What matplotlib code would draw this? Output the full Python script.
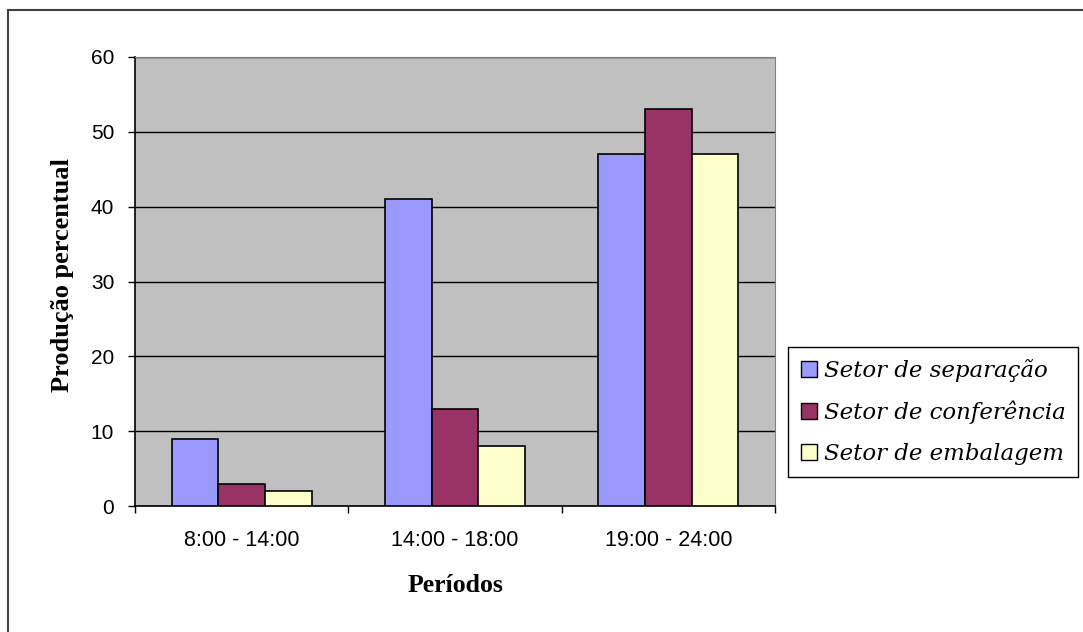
import matplotlib

matplotlib.use("Agg")

import numpy as np
from matplotlib import pyplot as plt
from matplotlib.lines import Line2D
from matplotlib.patches import Patch

periods = ["8:00 - 14:00", "14:00 - 18:00", "19:00 - 24:00"]
series_names = ["Setor de separação", "Setor de conferência", "Setor de embalagem"]
separacao = [9, 41, 47]
conferencia = [3, 13, 53]
embalagem = [2, 8, 47]
y_ticks = [0, 10, 20, 30, 40, 50, 60]

colors = ["#9999ff", "#993366", "#ffffcc"]

W, H = 1083, 632
fig = plt.figure(figsize=(W / 100, H / 100), dpi=100)

# outer chart frame (only left and top edges visible)
fig.add_artist(Line2D([8 / W, 8 / W], [0, 1 - 10 / H], color="#404040", lw=1.5))
fig.add_artist(Line2D([8 / W, 1], [1 - 10 / H, 1 - 10 / H], color="#404040", lw=1.5))

left, right, top, bottom = 135, 775, 57, 506
ax = fig.add_axes([left / W, 1 - bottom / H, (right - left) / W, (bottom - top) / H])
ax.set_facecolor("#c0c0c0")

x = np.arange(len(periods))
bar_width = 0.219
for i, (values, color) in enumerate(zip([separacao, conferencia, embalagem], colors)):
    ax.bar(x + (i - 1) * bar_width, values, width=bar_width, color=color,
           edgecolor="black", linewidth=1.2, zorder=3)

ax.set_xlim(-0.5, len(periods) - 0.5)
ax.set_ylim(0, 60)
ax.set_yticks(y_ticks)
ax.yaxis.grid(True, color="black", linewidth=1.0, zorder=1)
ax.set_axisbelow(True)
ax.set_xticks(x)
ax.set_xticklabels(periods, fontsize=15.5, family="Liberation Sans")
ax.set_xticks(np.arange(-0.5, len(periods)), minor=True)
ax.tick_params(axis="x", which="major", length=0, pad=17)
ax.tick_params(axis="x", which="minor", length=5, direction="out", width=1)
ax.tick_params(axis="y", length=5, direction="out", width=1, labelsize=15, pad=10)
for label in ax.get_yticklabels():
    label.set_family("Liberation Sans")

for side in ["top", "right"]:
    ax.spines[side].set_color("#808080")
for side in ["left", "bottom"]:
    ax.spines[side].set_color("black")
    ax.spines[side].set_linewidth(1.2)

fig.text(62 / W, 1 - 275 / H, "Produção percentual", rotation=90, ha="center", va="center",
         fontsize=19, fontweight="bold", family="Liberation Serif")
fig.text(455 / W, 1 - 586 / H, "Períodos", ha="center", va="center",
         fontsize=18.5, fontweight="bold", family="Liberation Serif")

handles = [Patch(facecolor=c, edgecolor="black", linewidth=1) for c in colors]
leg = fig.legend(handles, series_names, loc="center", bbox_to_anchor=(933 / W, 1 - 412 / H),
                 frameon=True, fancybox=False, edgecolor="black", framealpha=1,
                 prop={"family": "DejaVu Serif", "style": "italic", "size": 16.5},
                 handlelength=0.7, handleheight=0.7, handletextpad=0.3, labelspacing=0.8,
                 borderpad=0.55, borderaxespad=0)
leg.get_frame().set_linewidth(1.0)

fig.savefig("out.png", dpi=100)
